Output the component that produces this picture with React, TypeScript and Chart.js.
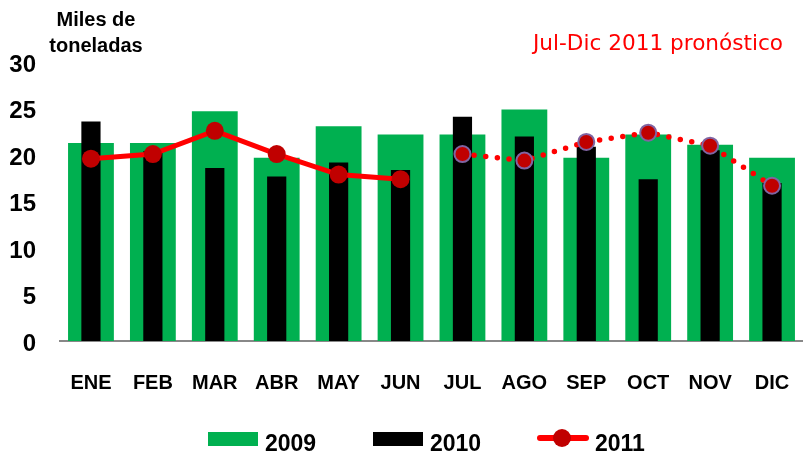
import React, { useEffect, useRef } from "react";
import { Chart, registerables } from "chart.js";

Chart.register(...registerables);

const months = ["ENE", "FEB", "MAR", "ABR", "MAY", "JUN", "JUL", "AGO", "SEP", "OCT", "NOV", "DIC"];
const values2009 = [21.3, 21.3, 24.7, 19.7, 23.1, 22.2, 22.2, 24.9, 19.7, 22.2, 21.1, 19.7];
const values2010 = [23.6, 20.4, 18.6, 17.7, 19.2, 18.4, 24.1, 22.0, 20.9, 17.4, 20.5, 17.0];
const values2011Actual = [19.6, 20.1, 22.6, 20.1, 17.9, 17.4, null, null, null, null, null, null];
const values2011Forecast = [null, null, null, null, null, null, 20.1, 19.4, 21.4, 22.4, 21.0, 16.7];
const yTicks = [0, 5, 10, 15, 20, 25, 30];

const GREEN = "#00B050";
const RED = "#FF0000";
const DARK_RED = "#C00000";
const PURPLE = "#8064A2";
const SANS = "'Liberation Sans', Arial, sans-serif";

export default function App() {
  const canvasRef = useRef<HTMLCanvasElement | null>(null);

  useEffect(() => {
    document.body.style.margin = "0";
    const canvas = canvasRef.current;
    if (!canvas) return;
    const chart = new Chart(canvas, {
      type: "bar",
      data: {
        labels: months,
        datasets: [
          {
            type: "line",
            label: "2011",
            data: values2011Actual,
            borderColor: RED,
            borderWidth: 5,
            pointRadius: 9,
            pointBackgroundColor: DARK_RED,
            pointBorderColor: DARK_RED,
            pointBorderWidth: 0,
            spanGaps: false,
            order: 0,
          } as any,
          {
            type: "line",
            label: "2011 pronóstico",
            data: values2011Forecast,
            borderColor: RED,
            borderWidth: 5.5,
            borderDash: [0, 11.7],
            borderCapStyle: "round",
            pointRadius: 8,
            pointBackgroundColor: DARK_RED,
            pointBorderColor: PURPLE,
            pointBorderWidth: 2,
            spanGaps: false,
            order: 0,
          } as any,
          {
            type: "bar",
            label: "2010",
            data: values2010,
            backgroundColor: "#000000",
            grouped: false,
            barPercentage: 0.31,
            categoryPercentage: 1,
            order: 1,
          } as any,
          {
            type: "bar",
            label: "2009",
            data: values2009,
            backgroundColor: GREEN,
            grouped: false,
            barPercentage: 0.74,
            categoryPercentage: 1,
            order: 2,
          } as any,
        ],
      },
      options: {
        responsive: false,
        animation: false,
        devicePixelRatio: 1,
        layout: { autoPadding: false, padding: { top: 62, left: 0, right: 0, bottom: 0 } },
        plugins: {
          legend: { display: false },
          tooltip: { enabled: false },
        },
        scales: {
          x: {
            grid: { display: false, drawTicks: false },
            border: { display: true, color: "#888888", width: 2 },
            ticks: {
              color: "#000",
              font: { family: SANS, size: 20, weight: "bold" },
              padding: 30,
              maxRotation: 0,
              autoSkip: false,
            },
            afterFit: (s: any) => {
              s.height = 113;
              s.paddingLeft = 0;
              s.paddingRight = 0;
            },
          },
          y: {
            min: 0,
            max: 30,
            afterBuildTicks: (s: any) => {
              s.ticks = yTicks.map((v) => ({ value: v }));
            },
            grid: { display: false, drawTicks: false },
            border: { display: false },
            ticks: {
              color: "#000",
              font: { family: SANS, size: 24, weight: "bold" },
              padding: 24,
              labelOffset: 3,
            },
            afterFit: (s: any) => {
              s.width = 60;
              s.paddingTop = 0;
              s.paddingBottom = 0;
            },
          },
        },
      } as any,
    });
    return () => chart.destroy();
  }, []);

  const legendText: React.CSSProperties = {
    position: "absolute",
    top: 432,
    fontFamily: SANS,
    fontWeight: "bold",
    fontSize: 23,
    lineHeight: "23px",
    color: "#000",
    whiteSpace: "nowrap",
  };

  return (
    <div style={{ position: "relative", width: 803, height: 454, overflow: "hidden", background: "#fff" }}>
      <canvas ref={canvasRef} width={803} height={454} style={{ display: "block", width: 803, height: 454 }} />
      <div
        style={{
          position: "absolute",
          left: 36,
          top: 6,
          width: 120,
          textAlign: "center",
          fontFamily: SANS,
          fontWeight: "bold",
          fontSize: 20,
          lineHeight: "26px",
          color: "#000",
        }}
      >
        Miles de
        <br />
        toneladas
      </div>
      <div
        style={{
          position: "absolute",
          left: 533,
          top: 32,
          fontFamily: "'DejaVu Sans', Verdana, sans-serif",
          fontSize: 21.6,
          lineHeight: "21px",
          color: RED,
          whiteSpace: "nowrap",
        }}
      >
        Jul-Dic 2011 pronóstico
      </div>
      <div style={{ position: "absolute", left: 208, top: 432, width: 50, height: 14, background: GREEN }} />
      <div style={{ ...legendText, left: 265 }}>2009</div>
      <div style={{ position: "absolute", left: 373, top: 432, width: 50, height: 14, background: "#000" }} />
      <div style={{ ...legendText, left: 430 }}>2010</div>
      <div style={{ position: "absolute", left: 537, top: 435, width: 52, height: 6, borderRadius: 3, background: RED }} />
      <div style={{ position: "absolute", left: 553, top: 429, width: 18, height: 18, borderRadius: 9, background: DARK_RED }} />
      <div style={{ ...legendText, left: 595 }}>2011</div>
    </div>
  );
}
